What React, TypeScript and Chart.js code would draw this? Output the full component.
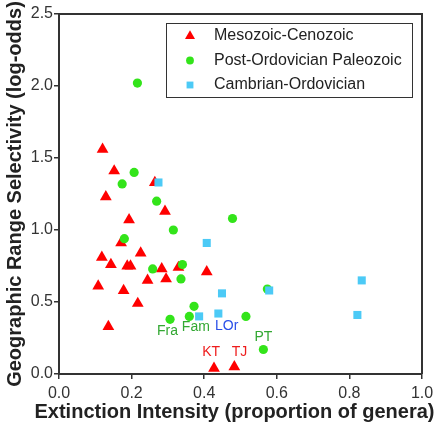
import React, { useEffect, useRef } from 'react';
import { Chart, registerables } from 'chart.js';
import { drawPoint } from 'chart.js/helpers';

Chart.register(...registerables);

const seriesNames = ['Mesozoic-Cenozoic', 'Post-Ordovician Paleozoic', 'Cambrian-Ordovician'];
const seriesColors = ['#ff0000', '#33e41a', '#4ccaf6'];
const seriesStyles = ['triangle', 'circle', 'rect'];
const seriesRadii = [6.8, 4.6, 5.7];

const mesoX = [0.120, 0.152, 0.129, 0.264, 0.292, 0.193, 0.171, 0.225, 0.118, 0.143, 0.188, 0.197, 0.283, 0.329, 0.407, 0.108, 0.244, 0.295, 0.178, 0.217, 0.136, 0.427, 0.483];
const mesoY = [1.56, 1.41, 1.23, 1.33, 1.13, 1.07, 0.91, 0.84, 0.81, 0.76, 0.75, 0.75, 0.73, 0.74, 0.71, 0.61, 0.65, 0.66, 0.58, 0.49, 0.33, 0.04, 0.05];

const paleoX = [0.216, 0.207, 0.174, 0.269, 0.478, 0.315, 0.180, 0.340, 0.258, 0.336, 0.574, 0.372, 0.359, 0.306, 0.515, 0.563];
const paleoY = [2.02, 1.40, 1.32, 1.20, 1.08, 1.00, 0.94, 0.76, 0.73, 0.66, 0.59, 0.47, 0.40, 0.38, 0.40, 0.17];

const cambX = [0.274, 0.407, 0.449, 0.439, 0.386, 0.579, 0.834, 0.822];
const cambY = [1.33, 0.91, 0.56, 0.42, 0.40, 0.58, 0.65, 0.41];

const noteLabels = ['Fra', 'Fam', 'LOr', 'PT', 'KT', 'TJ'];
const noteX = [0.299, 0.377, 0.462, 0.563, 0.419, 0.497];
const noteY = [0.301, 0.324, 0.333, 0.259, 0.151, 0.151];
const noteColors = ['#33a833', '#33a833', '#2a4fe8', '#33a833', '#ee1c1c', '#ee1c1c'];

const xTitle = 'Extinction Intensity (proportion of genera)';
const yTitle = 'Geographic Range Selectivity (log-odds)';

const FONT = "'Liberation Sans', Arial, sans-serif";

const toPts = (xs: number[], ys: number[]) => xs.map((x, i) => ({ x, y: ys[i] }));

const overlayPlugin = {
  id: 'overlay',
  afterDraw(chart: any) {
    const { ctx, chartArea, scales } = chart;
    ctx.save();
    // frame top/right
    ctx.strokeStyle = '#333333';
    ctx.lineWidth = 2;
    ctx.beginPath();
    ctx.moveTo(chartArea.left, chartArea.top);
    ctx.lineTo(chartArea.right, chartArea.top);
    ctx.lineTo(chartArea.right, chartArea.bottom);
    ctx.stroke();

    // axis titles
    ctx.fillStyle = '#222222';
    ctx.font = `bold 20px ${FONT}`;
    ctx.textAlign = 'center';
    ctx.textBaseline = 'middle';
    ctx.fillText(xTitle, chartArea.left + (chartArea.right - chartArea.left) / 2 - 6, chartArea.bottom + 38);
    ctx.save();
    ctx.translate(15, (chartArea.top + chartArea.bottom) / 2);
    ctx.rotate(-Math.PI / 2);
    ctx.fillText(yTitle, 0, 0);
    ctx.restore();

    // annotations
    ctx.font = `14px ${FONT}`;
    noteLabels.forEach((t, i) => {
      ctx.fillStyle = noteColors[i];
      ctx.fillText(t, scales.x.getPixelForValue(noteX[i]), scales.y.getPixelForValue(noteY[i]));
    });

    // legend
    const bw = 246, bh = 74;
    const bx = chartArea.right - 10 - bw;
    const by = chartArea.top + 9;
    ctx.fillStyle = '#ffffff';
    ctx.fillRect(bx, by, bw, bh);
    ctx.strokeStyle = '#333333';
    ctx.lineWidth = 1;
    ctx.strokeRect(bx + 0.5, by + 0.5, bw, bh);
    ctx.font = `16px ${FONT}`;
    ctx.textAlign = 'left';
    seriesNames.forEach((name, i) => {
      const cy = by + 13 + i * 24.5;
      ctx.fillStyle = seriesColors[i];
      drawPoint(ctx, { pointStyle: seriesStyles[i], radius: seriesRadii[i] * 0.85, rotation: 0, borderWidth: 0 } as any, bx + 24, cy);
      ctx.fillStyle = '#222222';
      ctx.fillText(name, bx + 48, cy);
    });
    ctx.restore();
  },
};

export default function App() {
  const ref = useRef<HTMLCanvasElement>(null);
  useEffect(() => {
    document.body.style.margin = '0';
    const canvas = ref.current!;
    const mk = (i: number, data: any[], order: number) => ({
      label: seriesNames[i],
      data,
      order,
      pointStyle: seriesStyles[i],
      pointRadius: seriesRadii[i],
      pointHoverRadius: seriesRadii[i],
      backgroundColor: seriesColors[i],
      borderColor: seriesColors[i],
      borderWidth: 0,
    });
    const chart = new Chart(canvas, {
      type: 'scatter',
      data: {
        datasets: [
          mk(0, toPts(mesoX, mesoY), 3),
          mk(1, toPts(paleoX, paleoY), 2),
          mk(2, toPts(cambX, cambY), 1),
        ] as any,
      },
      options: {
        animation: false,
        responsive: false,
        layout: { padding: { top: 14, right: 17, left: 0, bottom: 0 } },
        plugins: { legend: { display: false }, tooltip: { enabled: false } },
        scales: {
          x: {
            type: 'linear',
            min: 0,
            max: 1,
            afterFit: (s: any) => { s.height = 54; },
            ticks: {
              stepSize: 0.2,
              color: '#333333',
              font: { family: FONT, size: 16 },
              padding: 5,
              maxRotation: 0,
              callback: (v: any) => Number(v).toFixed(1),
            },
            grid: { drawOnChartArea: false, drawTicks: true, tickLength: 5, color: '#333333', lineWidth: 1.5 },
            border: { display: true, color: '#333333', width: 2 },
          },
          y: {
            type: 'linear',
            min: 0,
            max: 2.5,
            afterFit: (s: any) => { s.width = 59; },
            ticks: {
              stepSize: 0.5,
              color: '#333333',
              font: { family: FONT, size: 16 },
              padding: 1,
              callback: (v: any) => Number(v).toFixed(1),
            },
            grid: { drawOnChartArea: false, drawTicks: true, tickLength: 5, color: '#333333', lineWidth: 1.5 },
            border: { display: true, color: '#333333', width: 2 },
          },
        },
      },
      plugins: [overlayPlugin],
    });
    return () => chart.destroy();
  }, []);
  return (
    <div style={{ width: 439, height: 428 }}>
      <canvas ref={ref} width={439} height={428} style={{ display: 'block' }} />
    </div>
  );
}
